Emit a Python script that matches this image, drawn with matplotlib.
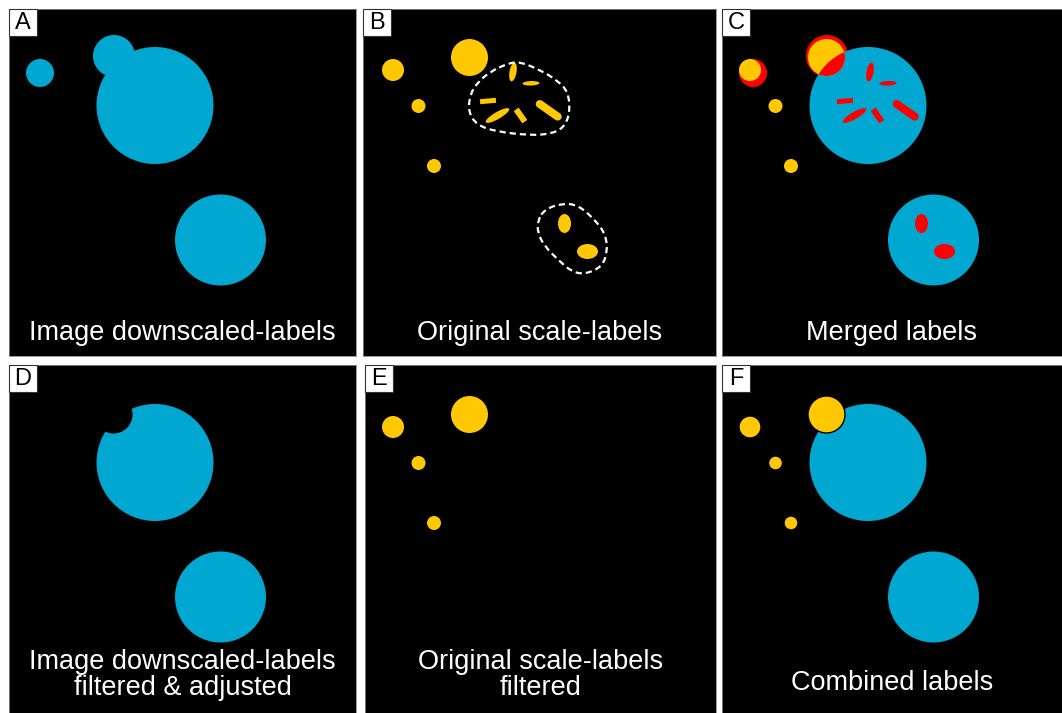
import matplotlib
matplotlib.use("Agg")
import matplotlib.pyplot as plt
from matplotlib.patches import Circle, Ellipse, Rectangle, PathPatch
from matplotlib.path import Path
import numpy as np

plt.rcParams["font.family"] = ["Liberation Sans", "DejaVu Sans"]

W, H = 1062, 713

BLUE = "#00a8d1"
YELLOW = "#ffc800"
RED = "#ff0000"

# panel frames in figure pixels: left, top, right, bottom, content origin x, y
PANEL_KEYS = ["A", "B", "C", "D", "E", "F"]
PANEL_RECTS = [
    (9, 9, 356, 356),
    (363, 9, 716, 356),
    (722, 9, 1062, 356),
    (9, 365, 356, 713),
    (365, 365, 716, 713),
    (722, 365, 1062, 713),
]
PANEL_ORIGINS = [(9, 9), (365, 9), (722, 9), (9, 366), (365, 366), (722, 366)]
PANEL_TITLES = [
    "Image downscaled-labels",
    "Original scale-labels",
    "Merged labels",
    "Image downscaled-labels\nfiltered & adjusted",
    "Original scale-labels\nfiltered",
    "Combined labels",
]
TITLE_BASELINE = [331, 331, 331, 329, 329, 324]

# downscaled-image labels (circles): big, lower, small top, small left
DS_X = [146, 211.5, 105, 31]
DS_Y = [96.5, 231, 47, 64]
DS_R = [58.5, 45.5, 21, 14]

# original-scale round labels
OS_X = [104.5, 28, 53.5, 69]
OS_Y = [48.5, 61, 97, 157]
OS_R = [18.5, 11, 7, 7]

# original-scale small elongated labels (ellipses)
EL_X = [148, 166, 132.5, 199.5, 222.5]
EL_Y = [63, 74.3, 106.5, 214.5, 242.5]
EL_LEN = [19, 17, 27, 13, 21]
EL_WID = [7, 4.5, 7, 19, 15]
EL_ANG = [80, 2, 30, 0, 0]

# rectangular bars: x, y, length, width, angle
BAR_X = [123, 155.5]
BAR_Y = [92, 106.5]
BAR_LEN = [16, 15]
BAR_WID = [5, 6]
BAR_ANG = [5, -55]

# rounded bar (capsule)
CAP_X = [183.7]
CAP_Y = [101.3]
CAP_LEN = [22]
CAP_WID = [8]
CAP_ANG = [-35]

# dashed outlines of clumps in panel B
BLOB1 = [(143.3, 54.3), (155, 52.7), (175, 61), (191.7, 71), (203.3, 82.7),
         (205, 104.3), (198.3, 119.3), (185, 125), (165, 126.3), (131.7, 122.7),
         (111.7, 116), (103.3, 102.7), (105, 86), (111.7, 74.3), (125, 62.7)]
BLOB2 = [(180, 200.3), (196.7, 194.3), (213.3, 196), (230, 211), (240, 224.3),
         (242.7, 241), (237.3, 257.7), (220, 265.3), (206.7, 262.7), (193.3, 251),
         (180, 237.7), (172.7, 224.3), (172.7, 211)]


def smooth_closed_path(points):
    pts = np.asarray(points, dtype=float)
    mids = (pts + np.roll(pts, -1, axis=0)) / 2.0
    verts = [mids[-1]]
    codes = [Path.MOVETO]
    for i in range(len(pts)):
        verts += [pts[i], mids[i]]
        codes += [Path.CURVE3, Path.CURVE3]
    return Path(verts, codes)


def add_circle(ax, x, y, r, color, **kw):
    c = Circle((x, y), r, facecolor=color, edgecolor=kw.pop("edgecolor", "none"), **kw)
    ax.add_patch(c)
    return c


def draw_small_labels(ax, color):
    for x, y, l, w, a in zip(EL_X, EL_Y, EL_LEN, EL_WID, EL_ANG):
        ax.add_patch(Ellipse((x, y), l, w, angle=-a, facecolor=color, edgecolor="none"))
    for x, y, l, w, a in zip(BAR_X, BAR_Y, BAR_LEN, BAR_WID, BAR_ANG):
        ax.add_patch(Rectangle((x - l / 2, y - w / 2), l, w, angle=-a,
                               rotation_point="center", facecolor=color, edgecolor="none"))
    for x, y, l, w, a in zip(CAP_X, CAP_Y, CAP_LEN, CAP_WID, CAP_ANG):
        t = np.deg2rad(a)
        dx, dy = l / 2 * np.cos(t), -l / 2 * np.sin(t)
        ax.plot([x - dx, x + dx], [y - dy, y + dy], color=color,
                linewidth=w * 0.72, solid_capstyle="round")


fig = plt.figure(figsize=(W / 100, H / 100), dpi=100)
fig.patch.set_facecolor("white")

axes = {}
for key, (l, t, r, b), (ox, oy), title, base in zip(
        PANEL_KEYS, PANEL_RECTS, PANEL_ORIGINS, PANEL_TITLES, TITLE_BASELINE):
    ax = fig.add_axes([l / W, 1 - b / H, (r - l) / W, (b - t) / H])
    ax.set_facecolor("black")
    ax.set_xlim(l - ox, r - ox)
    ax.set_ylim(b - oy, t - oy)
    ax.set_xticks([])
    ax.set_yticks([])
    for s in ax.spines.values():
        s.set_color("#888888")
        s.set_linewidth(0.6)
    cx = (l + r) / 2 - ox
    ax.text(cx, base, title, color="white", fontsize=19.5, ha="center", va="baseline",
            linespacing=0.98, zorder=20)
    x0, y0 = l - ox, t - oy
    ax.add_patch(Rectangle((x0, y0), 28, 27, facecolor="white", edgecolor="#333333",
                           linewidth=0.8, zorder=20, clip_on=False))
    ax.text(x0 + 14, y0 + 14, key, fontsize=17, ha="center", va="center",
            color="black", zorder=21)
    axes[key] = ax

# A: downscaled labels
for x, y, r in zip(DS_X, DS_Y, DS_R):
    add_circle(axes["A"], x, y, r, BLUE)

# B: original-scale labels with clumps outlined
for x, y, r in zip(OS_X, OS_Y, OS_R):
    add_circle(axes["B"], x, y, r, YELLOW)
draw_small_labels(axes["B"], YELLOW)
for blob in (BLOB1, BLOB2):
    axes["B"].add_patch(PathPatch(smooth_closed_path(blob), facecolor="none",
                                  edgecolor="white", linewidth=1.6,
                                  linestyle=(0, (2.8, 1.8))))

# C: merged
axC = axes["C"]
for x, y, r in zip(DS_X[2:], DS_Y[2:], DS_R[2:]):
    add_circle(axC, x, y, r, RED)
big_blue = [add_circle(axC, x, y, r, BLUE) for x, y, r in zip(DS_X[:2], DS_Y[:2], DS_R[:2])]
for x, y, r in zip(OS_X, OS_Y, OS_R):
    add_circle(axC, x, y, r, YELLOW)
    for bb in big_blue:
        ov = add_circle(axC, x, y, r, RED)
        ov.set_clip_path(bb)
draw_small_labels(axC, RED)

# D: downscaled filtered & adjusted
axD = axes["D"]
for x, y, r in zip(DS_X[:2], DS_Y[:2], DS_R[:2]):
    add_circle(axD, x, y, r, BLUE)
add_circle(axD, OS_X[0], OS_Y[0], OS_R[0] + 0.5, "black")

# E: original-scale filtered
for x, y, r in zip(OS_X, OS_Y, OS_R):
    add_circle(axes["E"], x, y, r, YELLOW)

# F: combined
axF = axes["F"]
for x, y, r in zip(DS_X[:2], DS_Y[:2], DS_R[:2]):
    add_circle(axF, x, y, r, BLUE)
for x, y, r in zip(OS_X, OS_Y, OS_R):
    add_circle(axF, x, y, r, YELLOW, edgecolor="black", linewidth=1.0)

fig.savefig("out.png", dpi=100, facecolor="white")
